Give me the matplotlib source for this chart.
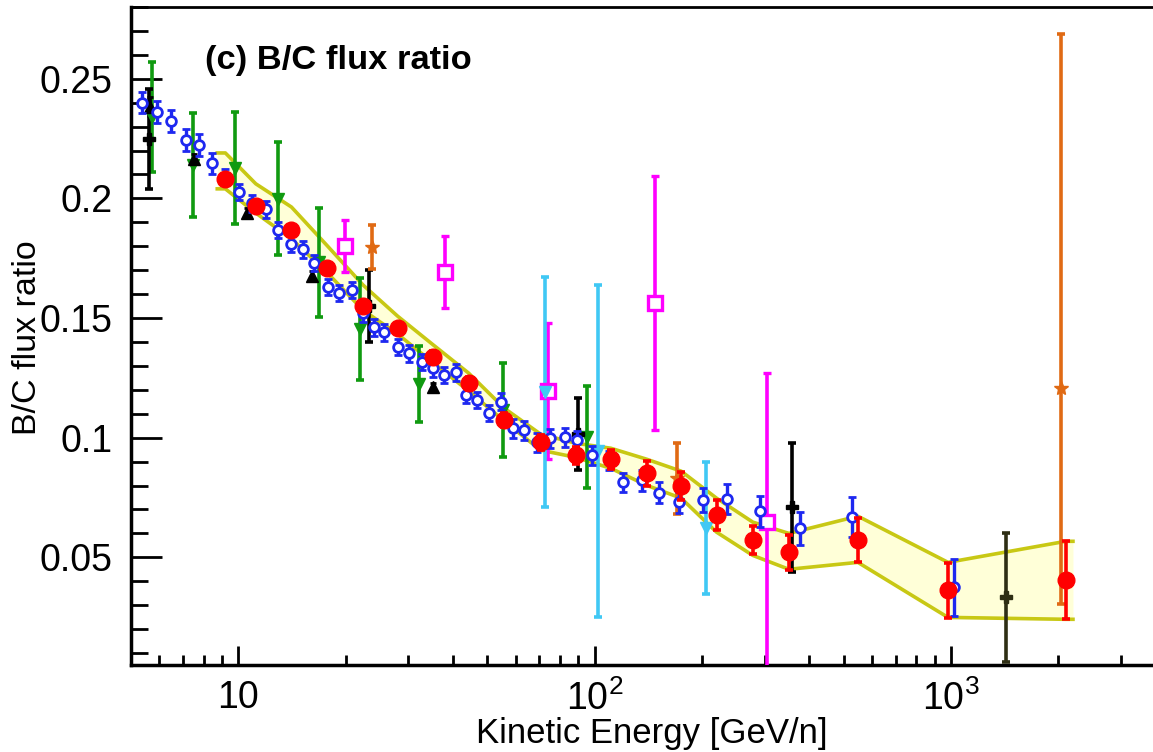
import matplotlib
matplotlib.use('Agg')
import matplotlib.pyplot as plt
from matplotlib.ticker import FixedLocator, FuncFormatter, MultipleLocator

plt.rcParams['font.family'] = ['Liberation Sans', 'DejaVu Sans']
plt.rcParams['mathtext.fontset'] = 'custom'
plt.rcParams['mathtext.rm'] = 'Liberation Sans'

# blue open circles
ams_e = [5.37, 5.92, 6.49, 7.15, 7.77, 8.45, 9.2, 10.07, 10.9, 12.0, 12.9, 14.1, 15.2, 16.3,
         17.8, 19.2, 20.8, 22.4, 24.1, 25.7, 28.0, 30.2, 32.7, 35.3, 37.9, 40.8, 43.7, 46.9,
         50.7, 54.6, 58.9, 63.5, 68.7, 74.8, 82.4, 89.0, 98.6, 110, 120.5, 135.5, 152, 173,
         201, 236, 291, 377, 527, 1020]
ams_v = [0.240, 0.2362, 0.2324, 0.2245, 0.2224, 0.2146, 0.209, 0.2027, 0.198, 0.1955, 0.1868,
         0.181, 0.1787, 0.173, 0.163, 0.1605, 0.1617, 0.152, 0.1462, 0.144, 0.1379, 0.1353,
         0.1316, 0.129, 0.1262, 0.1274, 0.1178, 0.1157, 0.1103, 0.115, 0.104, 0.1031, 0.0981,
         0.0998, 0.1002, 0.099, 0.0927, 0.0905, 0.0814, 0.0822, 0.077, 0.073, 0.0738, 0.0745,
         0.0692, 0.0621, 0.0667, 0.0375]
ams_err = [0.0045, 0.0045, 0.0045, 0.0045, 0.0045, 0.0045, 0.0035, 0.0035, 0.0035, 0.0035,
           0.0035, 0.0035, 0.0035, 0.0035, 0.0035, 0.0035, 0.0035, 0.0035, 0.0035, 0.0035,
           0.0035, 0.0035, 0.0035, 0.0035, 0.0035, 0.0035, 0.0035, 0.0035, 0.0035, 0.0035,
           0.004, 0.004, 0.004, 0.004, 0.004, 0.004, 0.004, 0.004, 0.004, 0.0045, 0.0045,
           0.0045, 0.005, 0.0062, 0.0066, 0.007, 0.0084, 0.012]

# red filled circles
red_e = [9.2, 11.2, 14.1, 17.7, 22.4, 28.0, 35.3, 44.3, 55.8, 70.5, 88.4, 111, 140, 175,
         220, 278, 351, 548, 981, 2100]
red_v = [0.208, 0.197, 0.1868, 0.1709, 0.155, 0.1458, 0.1337, 0.1228, 0.1073, 0.0981,
         0.0927, 0.091, 0.0852, 0.0797, 0.0676, 0.0571, 0.0521, 0.0571, 0.0362, 0.0404]
red_err = [0.002, 0.002, 0.002, 0.002, 0.0022, 0.0023, 0.0025, 0.0027, 0.003, 0.0032,
           0.0036, 0.004, 0.0052, 0.0058, 0.0063, 0.0059, 0.0072, 0.0092, 0.0115, 0.0163]

# yellow band
band_e = [8.73, 9.2, 11.2, 14.1, 17.7, 22.4, 28.0, 35.3, 44.3, 55.8, 70.5, 88.4, 111, 140,
          175, 220, 278, 351, 548, 981, 2100, 2200]
band_hi = [0.219, 0.219, 0.2061, 0.1964, 0.1805, 0.1638, 0.1508, 0.1387, 0.127, 0.1123,
           0.1015, 0.0977, 0.0956, 0.091, 0.086, 0.0747, 0.0647, 0.060, 0.0672, 0.0479,
           0.0567, 0.0567]
band_lo = [0.204, 0.204, 0.1939, 0.1831, 0.1692, 0.1533, 0.1433, 0.1312, 0.1195, 0.1069,
           0.0948, 0.0918, 0.0872, 0.0801, 0.0747, 0.0605, 0.0508, 0.045, 0.0479, 0.0249,
           0.0241, 0.0241]

# green down triangles
grn_e = [5.73, 7.48, 9.8, 12.9, 16.9, 22.0, 32.2, 55.5, 95]
grn_v = [0.234, 0.214, 0.2128, 0.1998, 0.1734, 0.1454, 0.1224, 0.1115, 0.1002]
grn_err = [0.023, 0.0218, 0.0234, 0.0236, 0.0228, 0.0213, 0.016, 0.0197, 0.0214]

# black up triangles
tri_e = [5.65, 7.5, 10.6, 16.1, 35.1]
tri_v = [0.2383, 0.2165, 0.194, 0.1675, 0.121]
tri_err = [0.004, 0.002, 0.002, 0.002, 0.002]

# black crosses
blk_e = [5.6, 23.3, 90, 357]
blk_v = [0.2249, 0.155, 0.1015, 0.0709]
blk_err = [0.021, 0.015, 0.015, 0.027]

# dark cross
drk_e = [1426]
drk_v = [0.0333]
drk_err = [0.027]

# magenta open squares
mag_e = [19.9, 38.1, 73.8, 147.5, 304]
mag_v = [0.1801, 0.1692, 0.1195, 0.1563, 0.0647]
mag_err = [0.011, 0.015, 0.0286, 0.053, 0.0625]

# orange stars
org_e = [23.7, 170, 2037]
org_v = [0.1797, 0.083, 0.1207]
org_lo = [0.0092, 0.0149, 0.090]
org_hi = [0.0092, 0.0149, 0.148]

# cyan down triangles
cyn_e = [72.8, 102, 205]
cyn_v = [0.119, 0.0945, 0.0621]
cyn_err = [0.048, 0.0695, 0.0276]

W, H = 1153, 752
fig = plt.figure(figsize=(W / 100, H / 100), dpi=100)
ax = fig.add_axes([131 / W, 87 / H, 1 - 131 / W, 658 / H])

ax.fill_between(band_e, band_lo, band_hi, color='#ffffd8', lw=0, zorder=1)
ax.plot(band_e, band_hi, color='#c8c814', lw=2.6, zorder=2)
ax.plot(band_e, band_lo, color='#c8c814', lw=2.6, zorder=2)

ebar = dict(elinewidth=2.6, capsize=3, capthick=2.6, zorder=3)
ax.errorbar(grn_e, grn_v, yerr=grn_err, fmt='v', color='#109a10', ms=8, **ebar)
ax.errorbar(tri_e, tri_v, yerr=tri_err, fmt='^', color='black', ms=8, elinewidth=2,
            capsize=2, capthick=2, zorder=3)
ax.errorbar(blk_e, blk_v, yerr=blk_err, fmt='P', color='black', ms=8, **ebar)
ax.errorbar(drk_e, drk_v, yerr=drk_err, fmt='P', color='#2e2e14', ms=8, **ebar)
ax.errorbar(mag_e, mag_v, yerr=mag_err, fmt='s', color='#ff00ff', mfc='white', mew=2.4,
            ms=10, **ebar)
ax.errorbar(org_e, org_v, yerr=[org_lo, org_hi], fmt='*', color='#e06a14', ms=10, **ebar)
ax.errorbar(cyn_e, cyn_v, yerr=cyn_err, fmt='v', color='#40c8f4', ms=8, **ebar)
ax.errorbar(ams_e, ams_v, yerr=ams_err, fmt='o', color='#1e28f0', mfc='white', mew=2,
            ms=7, elinewidth=2.4, capsize=3, capthick=2.4, zorder=4)
ax.errorbar(red_e, red_v, yerr=red_err, fmt='o', color='#ff0000', ms=12, elinewidth=2.6,
            capsize=3, capthick=2.6, zorder=5)

ax.set_xscale('log')
ax.set_xlim(5, 3690)
ax.set_ylim(0.005, 0.28)

ax.xaxis.set_major_locator(FixedLocator([10, 100, 1000]))
ax.xaxis.set_minor_locator(FixedLocator([m * d for d in [1, 10, 100, 1000] for m in range(2, 10)]))
ax.xaxis.set_major_formatter(FuncFormatter(
    lambda v, p: {10: '10', 100: r'$\mathregular{10^{2}}$', 1000: r'$\mathregular{10^{3}}$'}.get(round(v), '')))
ax.yaxis.set_major_locator(MultipleLocator(0.05))
ax.yaxis.set_minor_locator(MultipleLocator(0.01))
ax.yaxis.set_major_formatter(FuncFormatter(lambda v, p: '%g' % round(v, 3)))

ax.tick_params(axis='both', which='both', direction='in', width=2, colors='black')
ax.tick_params(axis='y', which='major', length=22, labelsize=27, pad=13)
ax.tick_params(axis='y', which='minor', length=12)
ax.tick_params(axis='x', which='major', length=14, labelsize=27, pad=11)
ax.tick_params(axis='x', which='minor', length=7)

for s in ['left', 'bottom']:
    ax.spines[s].set_linewidth(2.5)
ax.spines['top'].set_linewidth(2)
ax.spines['right'].set_visible(False)

fig.text(205 / W, 1 - 60 / H, '(c) B/C flux ratio', fontsize=24.8, fontweight='bold', va='center')
fig.text(28 / W, 1 - 338 / H, 'B/C flux ratio', fontsize=24.5, rotation=90, va='center', ha='center')
fig.text(652 / W, 1 - 733 / H, 'Kinetic Energy [GeV/n]', fontsize=25, va='center', ha='center')

fig.savefig('out.png', dpi=100)
